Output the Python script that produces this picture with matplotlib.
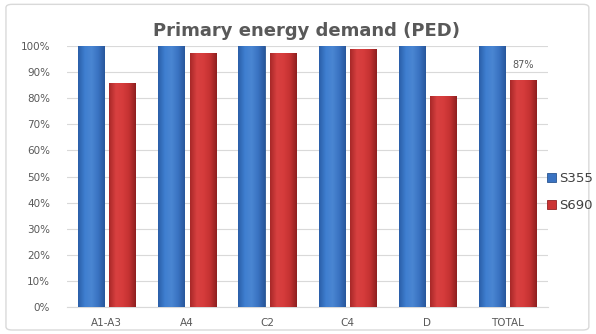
import matplotlib
matplotlib.use("Agg")
import matplotlib.pyplot as plt
from matplotlib.patches import FancyBboxPatch
from matplotlib.colors import LinearSegmentedColormap
import numpy as np

categories = ["A1-A3", "A4", "C2", "C4", "D", "TOTAL"]
s355 = [100, 100, 100, 100, 100, 100]
s690 = [86, 97.5, 97.5, 99, 81, 87]
y_ticks = [0, 10, 20, 30, 40, 50, 60, 70, 80, 90, 100]

fig = plt.figure(figsize=(5.96, 3.34), dpi=100)
fig.patch.set_facecolor("white")
frame = FancyBboxPatch((0.01, 0.012), 0.978, 0.975, boxstyle="round,pad=0,rounding_size=0.01",
                       transform=fig.transFigure, facecolor="none", edgecolor="#d9d9d9", lw=1.0,
                       zorder=-1)
fig.patches.append(frame)

ax = fig.add_axes([0.112, 0.081, 0.807, 0.781])
ax.set_facecolor("none")
x = np.arange(len(categories))
w = 0.325
off = 0.195
b1 = ax.bar(x - off, s355, w, color="#3a73c2", edgecolor="#2a5590", lw=0.6, label="S355", zorder=3)
b2 = ax.bar(x + off, s690, w, color="#cc3434", edgecolor="#922222", lw=0.6, label="S690", zorder=3)

blue_cm = LinearSegmentedColormap.from_list("b", ["#2a5ea8", "#3f7fd0", "#4a86d2", "#3a73c2", "#28579c"])
red_cm = LinearSegmentedColormap.from_list("r", ["#a82828", "#d84040", "#d63c3c", "#c43232", "#8e2020"])
grad = np.linspace(0, 1, 64).reshape(1, -1)
ax.set_xlim(-0.5, len(categories) - 0.5)
ax.set_ylim(0, 100)
for bars, cm in ((b1, blue_cm), (b2, red_cm)):
    for p in bars:
        bx, by = p.get_x(), p.get_y()
        im = ax.imshow(grad, cmap=cm, aspect="auto", zorder=3.5,
                       extent=(bx, bx + p.get_width(), by, by + p.get_height()))
        im.set_clip_path(p)
ax.set_xlim(-0.5, len(categories) - 0.5)
ax.set_ylim(0, 100)

ax.set_yticks(y_ticks)
ax.set_yticklabels([f"{v}%" for v in y_ticks])
ax.set_xticks(x)
ax.set_xticklabels(categories)
ax.tick_params(length=0, labelsize=7.5, colors="#595959")
ax.tick_params(axis="y", pad=12)
ax.tick_params(axis="x", pad=8)
ax.grid(axis="y", color="#d9d9d9", lw=0.8, zorder=0)
for s in ["top", "right", "left"]:
    ax.spines[s].set_visible(False)
ax.spines["bottom"].set_color("#d9d9d9")

ax.text(x[-1] + off, s690[-1] + 4, f"{s690[-1]:.0f}%", ha="center", va="bottom", fontsize=7, color="#595959")

fig.text(0.515, 0.908, "Primary energy demand (PED)", ha="center", va="center",
         fontsize=13, fontweight="bold", color="#595959")

leg = fig.legend(handles=[b1, b2], loc="center left", bbox_to_anchor=(0.918, 0.425),
                 frameon=False, fontsize=9.5, handlelength=0.7, handleheight=0.7,
                 handletextpad=0.2, labelspacing=1.1, borderaxespad=0, borderpad=0)
for t in leg.get_texts():
    t.set_color("#404040")

fig.savefig("out.png", dpi=100)
